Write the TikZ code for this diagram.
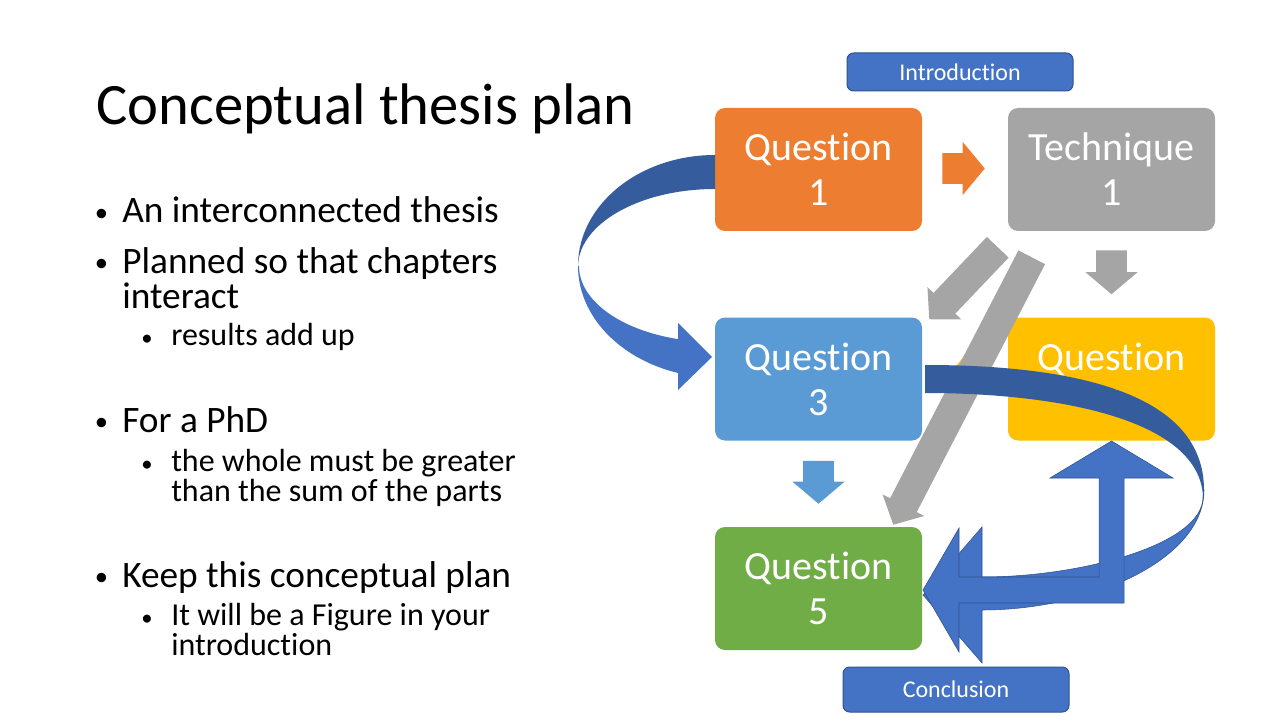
\documentclass[tikz,border=0pt]{standalone}
\usepackage{fontspec}
\setmainfont{Carlito}[Ligatures={NoCommon,NoContextual,NoRare},Contextuals=NoAlternate]
\usetikzlibrary{calc}

\definecolor{accOrange}{HTML}{ED7D31}
\definecolor{accGray}{HTML}{A5A5A5}
\definecolor{accYellow}{HTML}{FFC000}
\definecolor{accLightBlue}{HTML}{5B9BD5}
\definecolor{accGreen}{HTML}{70AD47}
\definecolor{accBlue}{HTML}{4472C4}
\definecolor{accBlueDark}{HTML}{2F528F}
\definecolor{ribbonBack}{HTML}{355D9E}

% keeps "t" and "i" as separate glyphs
\newcommand\nolig{\kern0pt\relax}

% straight block arrow: #1 style, #2 tail, #3 tip, #4 shaft half width,
% #5 head half width, #6 head length
\newcommand\blockarrow[6]{%
  \coordinate (ba-h) at ($(#3)!#6!(#2)$);
  \fill[#1] ($(#2)!#4!90:(#3)$) -- ($(ba-h)!#4!90:(#3)$) -- ($(ba-h)!#5!90:(#3)$)
    -- (#3) -- ($(ba-h)!#5!-90:(#3)$) -- ($(ba-h)!#4!-90:(#3)$)
    -- ($(#2)!#4!-90:(#3)$) -- cycle;
}

\begin{document}
\begin{tikzpicture}[x=0.75pt,y=-0.75pt,
  qbox/.style={rounded corners=7.5pt, minimum width=155.25pt, minimum height=92.25pt,
    inner sep=0pt, text=white, align=center, font=\fontsize{30}{33.75}\selectfont},
  labelbox/.style={draw=accBlueDark, line width=0.75pt, fill=accBlue, rounded corners=5pt,
    text=white, font=\fontsize{18}{20}\selectfont, inner sep=0pt, minimum width=169.5pt},
  txt/.style={anchor=base west, inner sep=0pt, text=black},
  hd/.style={txt, font=\fontsize{44}{50}\selectfont},
  lvl1/.style={txt, font=\fontsize{28}{32}\selectfont},
  lvl2/.style={txt, font=\fontsize{24}{28}\selectfont},
  dot1/.style={anchor=base, inner sep=0pt, font=\fontsize{20}{24}\selectfont},
  dot2/.style={anchor=base, inner sep=0pt, font=\fontsize{17}{20}\selectfont},
  ribbon/.style={fill=accBlue},
  outlined/.style={fill=accBlue, draw=accBlueDark, line width=0.4pt, line join=miter}
]
\useasboundingbox (0,0) rectangle (1280,720);
\fill[white] (0,0) rectangle (1280,720);

% ---- title and bullet list ----
\node[hd] (title) at (96,125) {Conceptual thesis plan};

\node[dot1] (d1) at (101.5,221.5) {•};
\node[lvl1] (b1) at (122,223) {An interconnected thesis};
\node[dot1] (d2) at (101.5,271.5) {•};
\node[lvl1] (b2) at (122,273) {Planned so that chapters};
\node[lvl1] (b2b) at (122,308) {interact};
\node[dot2] (d3) at (147,345) {•};
\node[lvl2] (b3) at (171,345) {results add up};

\node[dot1] (d4) at (101.5,430.5) {•};
\node[lvl1] (b4) at (122,432) {For a PhD};
\node[dot2] (d5) at (147,471) {•};
\node[lvl2] (b5) at (171,471) {the whole must be greater};
\node[lvl2] (b5b) at (171,501) {than the sum of the parts};

\node[dot1] (d6) at (101.5,585.5) {•};
\node[lvl1] (b6) at (122,587) {Keep this conceptual plan};
\node[dot2] (d7) at (147,625) {•};
\node[lvl2] (b7) at (171,625) {It will be a Figure in your};
\node[lvl2] (b7b) at (171,655) {introduct\nolig ion};

% ---- chapter boxes ----
\node[qbox, fill=accOrange]    (q1) at (818.5,169.5)  {Quest\nolig ion\\1};
\node[qbox, fill=accGray]      (t1) at (1111.5,169.5) {Technique\\1};
\node[qbox, fill=accLightBlue] (q3) at (818.5,379)    {Quest\nolig ion\\3};
\node[qbox, fill=accYellow]    (q4) at (1111.5,379)   {Quest\nolig ion\\4};
\node[qbox, fill=accGreen]     (q5) at (818.5,588.5)  {Quest\nolig ion\\5};

\node[labelbox, minimum height=28.5pt]  (intro) at (960,72)    {Introduct\nolig ion};
\node[labelbox, minimum height=33.75pt] (concl) at (956,689.5) {Conclusion};

% ---- straight block arrows ----
\coordinate (oa-s) at ($(q1.east)+(20,-1)$);
\coordinate (oa-e) at ($(t1.west)+(-23,-1)$);
\blockarrow{fill=accOrange}{oa-s}{oa-e}{11.6pt}{19.9pt}{16.5pt}

\coordinate (ya-s) at ($(q4.west)+(-20,0)$);
\coordinate (ya-e) at ($(q3.east)+(23,0)$);
\blockarrow{fill=accYellow}{ya-s}{ya-e}{11.6pt}{19.9pt}{16.5pt}

\coordinate (ga-s) at ($(t1.south)+(0,19)$);
\coordinate (ga-e) at ($(q4.north)+(0,-23)$);
\blockarrow{fill=accGray}{ga-s}{ga-e}{11.6pt}{19.5pt}{16.5pt}

\coordinate (ba-s) at ($(q3.south)+(0,20)$);
\coordinate (ba-e) at ($(q5.north)+(0,-23)$);
\blockarrow{fill=accLightBlue}{ba-s}{ba-e}{11.6pt}{19.5pt}{16.5pt}

\coordinate (gd1-s) at ($(t1.south west)+(-10,16)$);
\coordinate (gd1-e) at ($(q3.north east)+(7,2)$);
\blockarrow{fill=accGray}{gd1-s}{gd1-e}{11.25pt}{17.6pt}{16.5pt}

\coordinate (gd2-s) at ($(t1.south west)+(24,26)$);
\coordinate (gd2-e) at ($(q5.north east)+(-29,-2)$);
\blockarrow{fill=accGray}{gd2-s}{gd2-e}{11.25pt}{17.6pt}{16.5pt}

% ---- curved ribbon arrow: Question 1 round to Question 3 ----
\fill[ribbonBack] (715,155) .. controls (639.3,155) and (578,204.7) .. (578,266)
  .. controls (579,223.5) and (639.9,189) .. (715,189) -- cycle;
\fill[ribbon] (578,266) .. controls (578,315.1) and (618.5,358.5) .. (678,373)
  -- (678,390) -- (712,357) -- (678,323) -- (678,339.1)
  .. controls (619.5,329.9) and (579,300) .. (579,266) -- cycle;

% ---- curved ribbon arrow: Question 3 round to Question 5 ----
\fill[ribbonBack] (925,365) .. controls (1080,365) and (1204,395) .. (1204,490)
  -- (1203,497) .. controls (1200,420) and (1060,393) .. (925,393) -- cycle;
\filldraw[outlined] (1204,490) .. controls (1204,560) and (1090,610) .. (982,610)
  -- (982,663) -- (923,595) -- (982,527) -- (982,577)
  .. controls (1080,577) and (1203,545) .. (1203,497) -- cycle;

% ---- left-up arrow to Question 5 and Question 4 ----
\filldraw[outlined] (923,590) -- (959,528) -- (959,577) -- (1099,577) -- (1099,478)
  -- (1050,478) -- (1111.5,441) -- (1173,478) -- (1124,478) -- (1124,603)
  -- (959,603) -- (959,652) -- cycle;
\end{tikzpicture}
\end{document}
